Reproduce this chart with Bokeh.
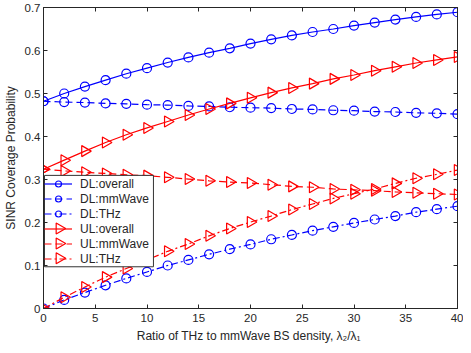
import numpy as np
from bokeh.plotting import figure
from bokeh.models import LinearAxis, Range1d, FixedTicker, Legend
from bokeh.embed import file_html
from bokeh.resources import INLINE

x = [0, 2, 4, 6, 8, 10, 12, 14, 16, 18, 20, 22, 24, 26, 28, 30, 32, 34, 36, 38, 40]
dl_overall = [0.482, 0.500, 0.516, 0.531, 0.546, 0.559, 0.572, 0.584, 0.595, 0.605, 0.616,
              0.626, 0.635, 0.643, 0.650, 0.658, 0.665, 0.672, 0.678, 0.684, 0.689]
dl_mmwave = [0.482, 0.480, 0.479, 0.477, 0.476, 0.474, 0.473, 0.471, 0.470, 0.468, 0.467,
             0.466, 0.464, 0.463, 0.461, 0.460, 0.458, 0.457, 0.455, 0.454, 0.452]
dl_thz = [0.000, 0.020, 0.037, 0.054, 0.070, 0.085, 0.100, 0.113, 0.126, 0.138, 0.149,
          0.161, 0.171, 0.181, 0.190, 0.199, 0.207, 0.215, 0.224, 0.231, 0.238]
ul_overall = [0.324, 0.345, 0.366, 0.386, 0.404, 0.420, 0.435, 0.450, 0.464, 0.477, 0.490,
              0.502, 0.513, 0.523, 0.534, 0.543, 0.553, 0.562, 0.571, 0.578, 0.585]
ul_mmwave = [0.324, 0.320, 0.317, 0.314, 0.311, 0.309, 0.305, 0.301, 0.297, 0.294, 0.292,
             0.288, 0.284, 0.282, 0.278, 0.276, 0.274, 0.271, 0.269, 0.267, 0.265]
ul_thz = [0.000, 0.026, 0.050, 0.073, 0.093, 0.113, 0.133, 0.150, 0.169, 0.186, 0.201,
          0.215, 0.230, 0.243, 0.256, 0.267, 0.278, 0.291, 0.303, 0.312, 0.322]

x_ticks = [0, 5, 10, 15, 20, 25, 30, 35, 40]
y_ticks = [0, 0.1, 0.2, 0.3, 0.4, 0.5, 0.6, 0.7]
y_tick_labels = {0: "0", 0.1: "0.1", 0.2: "0.2", 0.3: "0.3", 0.4: "0.4", 0.5: "0.5", 0.6: "0.6", 0.7: "0.7"}

FONT = "Liberation Sans"
TXT = "#262626"
BLUE = "#0000FF"
RED = "#FF0000"

W, H = 463, 345
BL, BR, BT, BB = 39, 6, 7, 35
p = figure(width=W, height=H, output_backend="svg", toolbar_location=None,
           x_range=Range1d(0, 40), y_range=Range1d(0, 0.7),
           min_border_left=BL, min_border_right=BR, min_border_top=BT, min_border_bottom=BB,
           x_axis_label="Ratio of THz to mmWave BS density,  λ₂/λ₁",
           y_axis_label="SINR Coverage Probability")
p.grid.visible = False
p.outline_line_color = TXT
p.outline_line_width = 1
p.background_fill_color = "white"
p.border_fill_color = "white"

for ax in (p.xaxis[0], p.yaxis[0]):
    ax.axis_line_color = TXT
    ax.major_tick_in = 4
    ax.major_tick_out = 0
    ax.minor_tick_line_color = None
    ax.major_tick_line_color = TXT
    ax.major_label_text_font = FONT
    ax.major_label_text_font_size = "11.5px"
    ax.major_label_text_color = TXT
    ax.axis_label_text_font = FONT
    ax.axis_label_text_font_size = "12px"
    ax.axis_label_text_font_style = "normal"
    ax.axis_label_text_color = TXT
p.xaxis[0].ticker = FixedTicker(ticks=x_ticks)
p.yaxis[0].ticker = FixedTicker(ticks=y_ticks)
p.yaxis[0].major_label_overrides = y_tick_labels
p.xaxis[0].major_label_standoff = 5
p.yaxis[0].major_label_standoff = 3
p.xaxis[0].axis_label_standoff = 4
p.yaxis[0].axis_label_standoff = 4

top = LinearAxis(ticker=FixedTicker(ticks=x_ticks),
                 major_label_overrides={t: "" for t in x_ticks},
                 major_tick_in=4, major_tick_out=0, minor_tick_line_color=None,
                 axis_line_color=TXT, major_tick_line_color=TXT, major_label_standoff=0)
right = LinearAxis(ticker=FixedTicker(ticks=y_ticks),
                   major_label_overrides={t: "" for t in y_ticks},
                   major_tick_in=4, major_tick_out=0, minor_tick_line_color=None,
                   axis_line_color=TXT, major_tick_line_color=TXT, major_label_standoff=0)
p.add_layout(top, "above")
p.add_layout(right, "right")

series = [
    ("DL:overall", dl_overall, BLUE, "solid", "circle"),
    ("DL:mmWave", dl_mmwave, BLUE, "7 4", "circle"),
    ("DL:THz", dl_thz, BLUE, "7 3 2 3", "circle"),
    ("UL:overall", ul_overall, RED, "solid", "triangle"),
    ("UL:mmWave", ul_mmwave, RED, "7 4", "triangle"),
    ("UL:THz", ul_thz, RED, "7 3 2 3", "triangle"),
]

items = []
tri_rows = []
for i, (name, ys, col, dash, mk) in enumerate(series):
    r1 = p.line(x, ys, line_color=col, line_width=1.2, line_dash=dash)
    if mk == "circle":
        r2 = p.scatter(x, ys, marker="circle", size=9, fill_color=None, line_color=col, line_width=1.2)
        items.append((name, [r1, r2]))
    else:
        p.scatter(x, ys, marker="triangle", size=11, angle=-np.pi / 2,
                  fill_color=None, line_color=col, line_width=1.2)
        items.append((name, [r1]))
        tri_rows.append((i, col))

# legend geometry (screen px, relative to the frame's bottom-left)
LEG_X, LEG_Y, PAD, ROW, GW, LEG_W = 1, 42, 1, 15, 28, 110
leg_h = 2 * PAD + ROW * len(series)
fw = W - BL - BR
fh = H - BT - BB
sx = 40 / fw
sy = 0.7 / fh

# legend box (white, framed) drawn beneath the legend entries
p.quad(left=[LEG_X * sx], right=[(LEG_X + LEG_W) * sx],
       bottom=[LEG_Y * sy], top=[(LEG_Y + leg_h) * sy],
       fill_color="white", line_color="#333333", line_width=1)

# right-pointing triangle markers for the legend (Bokeh legends do not rotate markers)
for i, col in tri_rows:
    px = LEG_X + PAD + GW / 2
    py = LEG_Y + leg_h - PAD - ROW / 2 - ROW * i
    p.scatter([px * sx], [py * sy], marker="triangle", size=11, angle=-np.pi / 2,
              fill_color=None, line_color=col, line_width=1.2)

legend = Legend(items=items, location=(LEG_X, LEG_Y), orientation="vertical",
                label_text_font=FONT, label_text_font_size="12px", label_text_color=TXT,
                glyph_width=GW, glyph_height=ROW, label_height=ROW, spacing=0,
                padding=PAD, margin=0, label_standoff=8,
                border_line_color=None, background_fill_alpha=0)
p.add_layout(legend, "center")

open("out.html", "w").write(file_html(p, INLINE))
